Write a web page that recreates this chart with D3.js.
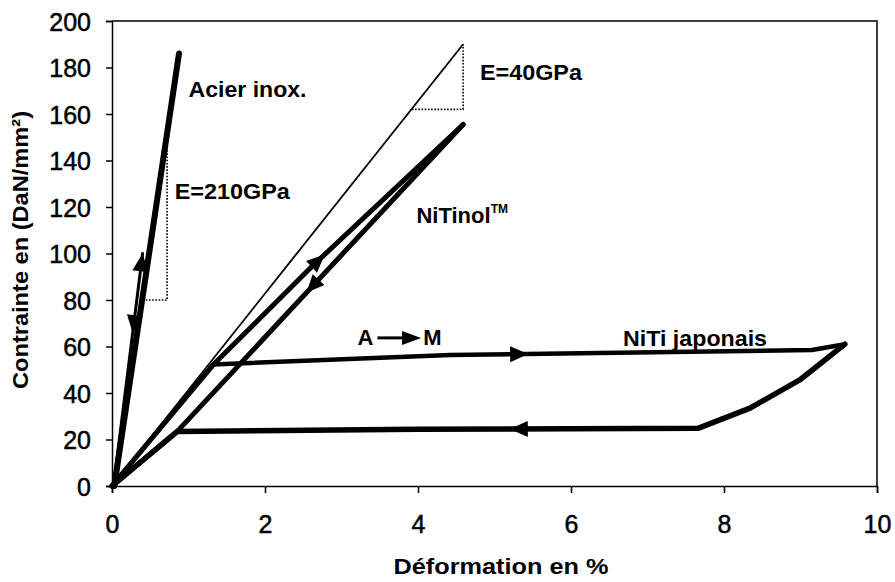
<!DOCTYPE html>
<html>
<head>
<meta charset="utf-8">
<script src="https://cdn.jsdelivr.net/npm/d3@7"></script>
<style>
  html, body { margin: 0; padding: 0; background: #fff; }
  svg { display: block; font-family: "Liberation Sans", Arial, sans-serif; }
</style>
</head>
<body>
<svg id="chart" width="895" height="582"></svg>
<script>
// ---- Data ----
const xTicks = [0, 2, 4, 6, 8, 10];
const yTicks = [0, 20, 40, 60, 80, 100, 120, 140, 160, 180, 200];
const xTitle = "Déformation en %";
const yTitle = "Contrainte en (DaN/mm²)";

// Acier inox. (stainless steel)
const steelMain = [[0.03, 0], [0.876, 186]];
const steelCycle = [[0.02, 0], [0.40, 100]];
// Reference slope lines
const refLine40 = [[0, 0], [4.59, 190]];
const tri210 = [[0.40, 80], [0.72, 80], [0.72, 149]];
const tri40 = [[3.92, 162], [4.59, 162], [4.59, 190]];
// NiTinol
const nitinolLoad = [[0, 0], [1.32, 52], [2.6, 94], [4.59, 155.5]];
const nitinolUnload = [[4.59, 155.5], [0.85, 23.4], [0, 0]];
// NiTi japonais
const nitiLoad = [[0, 0], [1.32, 52.3], [4.42, 56.3], [9.15, 58.5], [9.58, 61]];
const nitiUnload = [[9.58, 61], [8.99, 45.6], [8.34, 33.5], [7.66, 24.8], [4, 24.4], [0.85, 23.4], [0, 0]];

// arrowheads: series, x position of tip, direction (+1 along point order)
const arrows = [
  { s: steelCycle, x: 0.40, dir: 1 },
  { s: steelCycle, x: 0.27, dir: -1 },
  { s: nitinolLoad, x: 2.78, dir: 1 },
  { s: nitinolUnload, x: 2.54, dir: 1 },
  { s: nitiLoad, x: 5.44, dir: 1 },
  { s: nitiUnload, x: 5.20, dir: 1 }
];

// ---- Layout ----
const svg = d3.select("#chart");
const x = d3.scaleLinear().domain([0, 10]).range([112, 877]);
const y = d3.scaleLinear().domain([0, 200]).range([486, 21]);
const line = d3.line().x(d => x(d[0])).y(d => y(d[1]));

// frame (top and right)
svg.append("path")
  .attr("d", `M${x(0)},${y(200)}H${x(10)}V${y(0)}`)
  .attr("fill", "none").attr("stroke", "#000").attr("stroke-width", 1.5);

// axes
const gx = svg.append("g").attr("transform", `translate(0,${y(0)})`)
  .call(d3.axisBottom(x).tickValues(xTicks).tickSize(7).tickPadding(22).tickFormat(d3.format("d")));
const gy = svg.append("g").attr("transform", `translate(${x(0)},0)`)
  .call(d3.axisLeft(y).tickValues(yTicks).tickSize(6).tickPadding(15).tickFormat(d3.format("d")));
[gx, gy].forEach(g => {
  g.select(".domain").attr("stroke", "#000").attr("stroke-width", 1.5);
  g.selectAll(".tick line").attr("stroke", "#000").attr("stroke-width", 1.5);
  g.selectAll(".tick text").attr("fill", "#000")
    .attr("stroke", "#000").attr("stroke-width", 0.5)
    .style("font-family", '"Liberation Sans", Arial, sans-serif')
    .style("font-size", "25px");
});
gx.selectAll(".tick text").attr("dy", "0.72em");
gy.selectAll(".tick text").attr("dy", "0.36em");

// titles
svg.append("text").attr("x", 501).attr("y", 574)
  .attr("text-anchor", "middle").attr("font-weight", "bold").attr("font-size", 22)
  .attr("textLength", 215).attr("lengthAdjust", "spacingAndGlyphs")
  .text(xTitle);
svg.append("text").attr("transform", "translate(28,250) rotate(-90)")
  .attr("text-anchor", "middle").attr("font-weight", "bold").attr("font-size", 22)
  .attr("textLength", 278).attr("lengthAdjust", "spacingAndGlyphs")
  .text(yTitle);

// dotted triangles
[tri210, tri40].forEach(t => {
  svg.append("path").attr("d", line(t)).attr("fill", "none")
    .attr("stroke", "#000").attr("stroke-width", 1.6).attr("stroke-dasharray", "1.6,1.6");
});

// thin reference line E=40GPa
svg.append("path").attr("d", line(refLine40)).attr("fill", "none")
  .attr("stroke", "#000").attr("stroke-width", 1.8);

// curves
const thick = [
  { d: nitinolLoad, w: 5 },
  { d: nitinolUnload, w: 5 },
  { d: nitiLoad, w: 4.5 },
  { d: nitiUnload, w: 5.5 },
  { d: steelMain, w: 6 },
  { d: steelCycle, w: 3 }
];
thick.forEach(c => {
  svg.append("path").attr("d", line(c.d)).attr("fill", "none")
    .attr("stroke", "#000").attr("stroke-width", c.w)
    .attr("stroke-linejoin", "round").attr("stroke-linecap", "round");
});

// arrowheads
function arrowAt(pts, xv, dir) {
  for (let i = 0; i < pts.length - 1; i++) {
    const a = pts[i], b = pts[i + 1];
    const lo = Math.min(a[0], b[0]), hi = Math.max(a[0], b[0]);
    if (xv >= lo && xv <= hi && hi > lo) {
      const t = (xv - a[0]) / (b[0] - a[0]);
      const yv = a[1] + t * (b[1] - a[1]);
      let ang = Math.atan2(y(b[1]) - y(a[1]), x(b[0]) - x(a[0]));
      if (dir < 0) ang += Math.PI;
      return { px: x(xv), py: y(yv), ang: ang * 180 / Math.PI };
    }
  }
  return null;
}
arrows.forEach(a => {
  const p = arrowAt(a.s, a.x, a.dir);
  if (!p) return;
  svg.append("path").attr("d", "M0,0L-18,-8L-18,8Z").attr("fill", "#000")
    .attr("transform", `translate(${p.px},${p.py}) rotate(${p.ang})`);
});

// annotations
const lab = (t, xv, yv) => svg.append("text").attr("x", x(xv)).attr("y", y(yv))
  .attr("font-weight", "bold").attr("font-size", 22).attr("fill", "#000").text(t);
lab("Acier inox.", 1.0, 167.3).attr("textLength", 118).attr("lengthAdjust", "spacingAndGlyphs");
lab("E=210GPa", 0.82, 123.5).attr("textLength", 115).attr("lengthAdjust", "spacingAndGlyphs");
lab("E=40GPa", 4.81, 174.6).attr("textLength", 102).attr("lengthAdjust", "spacingAndGlyphs");
const nt = lab("NiTinol", 3.98, 113.1);
nt.append("tspan").attr("font-size", 12).attr("dy", -10).text("TM");
lab("A", 3.21, 60.6);
lab("M", 4.07, 60.6);
lab("NiTi japonais", 6.68, 60.3).attr("textLength", 144).attr("lengthAdjust", "spacingAndGlyphs");

// A -> M arrow
svg.append("line").attr("x1", x(3.47)).attr("x2", x(3.85))
  .attr("y1", y(63.7)).attr("y2", y(63.7)).attr("stroke", "#000").attr("stroke-width", 3);
svg.append("path").attr("d", "M0,0L-19,-7L-19,7Z").attr("fill", "#000")
  .attr("transform", `translate(${x(4.04)},${y(63.7)})`);
</script>
</body>
</html>
